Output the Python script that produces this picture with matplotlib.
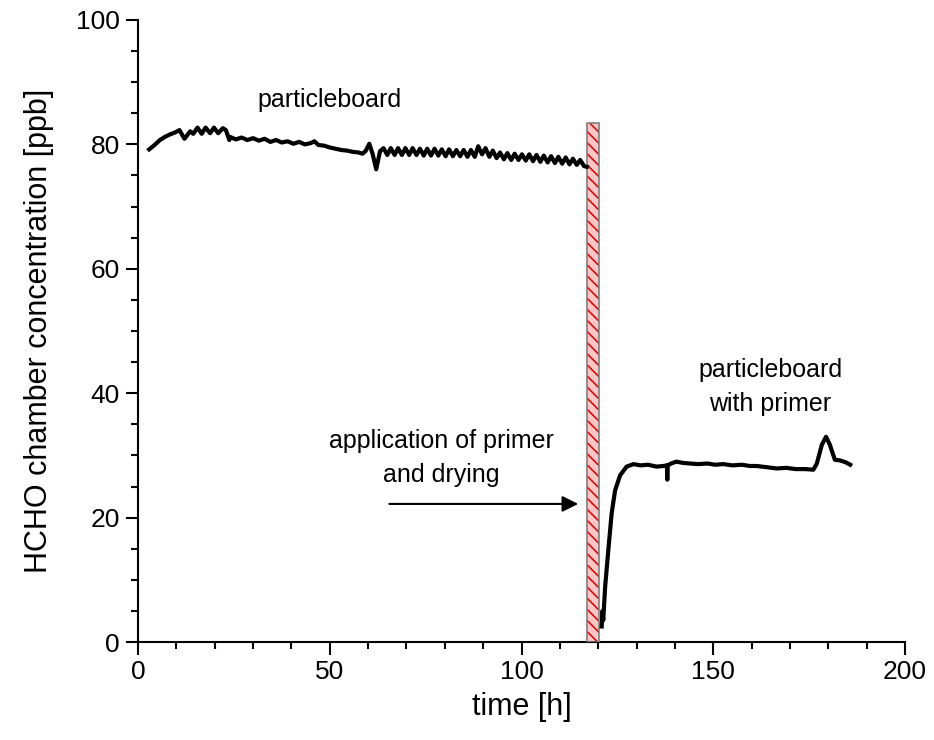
#!/usr/bin/env python3
# -*- coding: utf-8 -*-
"""
HCHO chamber concentration before and after priming a particleboard.
"""

import numpy as np
import matplotlib
matplotlib.use("Agg")
import matplotlib.pyplot as plt
from matplotlib.ticker import MultipleLocator

plt.rcParams['font.family'] = ['Liberation Sans', 'DejaVu Sans']
plt.rcParams['hatch.linewidth'] = 1.1

# particleboard alone, time [h] / concentration [ppb]
board_t = [2.9, 4.3, 5.7, 7.0, 8.3, 9.6, 10.8, 12.1, 13.6, 14.4, 15.5, 16.6, 17.6, 18.8, 19.8,
           20.9, 22.1, 22.9, 23.8, 24.0, 25.5, 27.0, 28.5, 30.0, 31.5, 33.0, 34.5, 36.0, 37.5,
           39.0, 40.5, 42.0, 43.5, 45.0, 46.0, 47.0, 48.5, 50.0, 51.5, 53.0, 54.5, 56.0, 57.5,
           58.5, 59.3, 60.3, 61.2, 62.1, 63.1,
           64.0, 65.0, 65.9, 66.9, 67.8, 68.8, 69.7, 70.7, 71.6, 72.6, 73.5, 74.5, 75.4, 76.4,
           77.3, 78.3, 79.2, 80.2, 81.1, 82.1, 83.0, 84.0, 84.9, 85.9, 86.8, 87.8, 88.7, 89.7,
           90.6, 91.6, 92.5, 93.5, 94.4, 95.4, 96.3, 97.3, 98.2, 99.2, 100.1, 101.1, 102.0,
           103.0, 103.9, 104.9, 105.8, 106.8, 107.7, 108.7, 109.6, 110.6, 111.5, 112.5, 113.4,
           114.4, 115.3, 116.3, 117.0]
board_c = [79.2, 79.9, 80.7, 81.2, 81.6, 81.9, 82.3, 80.9, 82.1, 81.7, 82.7, 81.7, 82.7, 81.8, 82.7,
           81.8, 82.6, 82.3, 80.7, 81.2, 80.8, 81.1, 80.7, 81.0, 80.6, 80.9, 80.4, 80.7, 80.3,
           80.5, 80.1, 80.4, 80.0, 80.2, 80.5, 79.9, 79.8, 79.5, 79.3, 79.1, 79.0, 78.8, 78.7,
           78.5, 78.9, 80.1, 78.4, 76.0, 78.9,
           79.4, 78.3, 79.4, 78.3, 79.4, 78.3, 79.4, 78.3, 79.4, 78.3, 79.3, 78.2, 79.3, 78.2,
           79.3, 78.2, 79.2, 78.1, 79.2, 78.1, 79.1, 78.1, 79.1, 78.0, 79.1, 78.0, 79.7, 78.4,
           79.4, 78.0, 79.0, 77.8, 78.7, 77.6, 78.6, 77.5, 78.5, 77.5, 78.4, 77.4, 78.4,
           77.3, 78.3, 77.2, 78.2, 77.1, 78.1, 77.0, 78.0, 76.9, 77.9, 76.8, 77.7,
           76.7, 77.5, 76.5, 76.4]

# particleboard with primer
primer_t = [120.9, 121.1, 121.3, 121.8, 122.7, 123.5, 124.4, 125.7, 127.4, 129.2, 131.0, 133.0,
            135.2, 137.0, 137.9, 138.0, 138.1, 139.0, 140.4, 142.0, 143.9, 146.0, 148.5, 150.5,
            152.6, 155.0, 157.5, 159.5, 161.3, 164.0, 166.5, 169.0, 171.5, 174.0, 176.1, 177.0,
            178.3, 179.4, 180.4, 181.7, 183.0, 184.5, 185.7]
primer_c = [2.5, 5.0, 3.5, 8.9, 15.3, 20.7, 24.4, 26.8, 28.2, 28.6, 28.4, 28.5,
            28.2, 28.3, 28.4, 26.1, 28.4, 28.7, 29.0, 28.8, 28.7, 28.6, 28.7, 28.5,
            28.6, 28.4, 28.5, 28.3, 28.3, 28.1, 27.9, 28.0, 27.8, 27.8, 27.7, 28.7,
            31.7, 33.0, 31.7, 29.3, 29.2, 28.9, 28.5]

# primer application and drying period
period_start = 117.0
period_end = 120.3
period_top = 83.5

fig = plt.figure(figsize=(9.34, 7.4), dpi=100)
ax = fig.add_axes([0.1478, 0.1324, 0.8212, 0.8406])

ax.bar(period_start, period_top, width=period_end - period_start, align='edge',
       facecolor='#ffc4c4', edgecolor='#d40000', hatch='\\\\\\', linewidth=0, zorder=2)
ax.bar(period_start, period_top, width=period_end - period_start, align='edge',
       facecolor='none', edgecolor='#7f7f7f', linewidth=1.2, zorder=3)

ax.plot(board_t, board_c, color='k', lw=3, zorder=4)
ax.plot(primer_t, primer_c, color='k', lw=3, zorder=4)

ax.text(50, 87.2, "particleboard", fontsize=18, ha='center', va='center')
ax.text(164.8, 41.0, "particleboard\nwith primer", fontsize=18, ha='center', va='center',
        linespacing=1.55)
ax.text(79.0, 29.6, "application of primer\nand drying", fontsize=18, ha='center', va='center',
        linespacing=1.55)
ax.annotate("", xy=(115.5, 22.2), xytext=(64.8, 22.2),
            arrowprops=dict(arrowstyle='-|>', color='k', lw=1.5, mutation_scale=24))

ax.set_xlim(0, 200)
ax.set_ylim(0, 100)
ax.xaxis.set_major_locator(MultipleLocator(50))
ax.xaxis.set_minor_locator(MultipleLocator(10))
ax.yaxis.set_major_locator(MultipleLocator(20))
ax.yaxis.set_minor_locator(MultipleLocator(5))
ax.tick_params(which='major', direction='out', length=9, width=1.5, labelsize=19, pad=4)
ax.tick_params(which='minor', direction='out', length=5, width=1.5)
for side in ['top', 'right']:
    ax.spines[side].set_visible(False)
for side in ['left', 'bottom']:
    ax.spines[side].set_linewidth(1.5)

ax.set_xlabel("time [h]", fontsize=22, labelpad=6)
ax.set_ylabel("HCHO chamber concentration [ppb]", fontsize=22, labelpad=16)

fig.savefig("out.png", dpi=100)
